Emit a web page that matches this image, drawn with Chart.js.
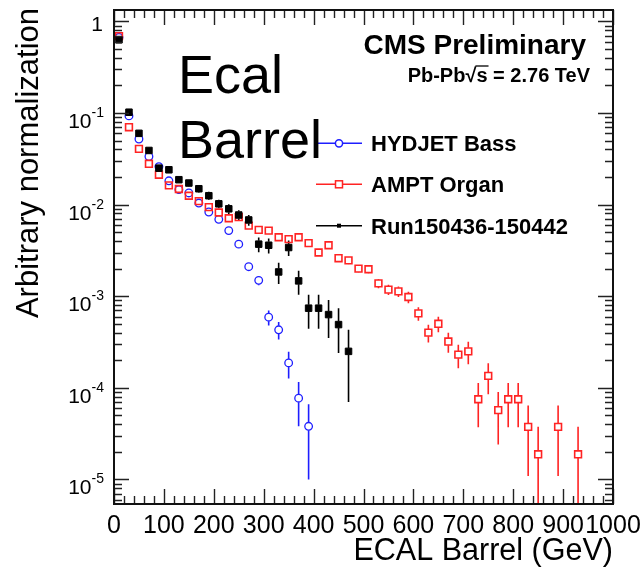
<!DOCTYPE html>
<html>
<head>
<meta charset="utf-8">
<script src="https://cdn.jsdelivr.net/npm/chart.js@4"></script>
<style>
  body { margin: 0; background: #fff; }
  canvas { display: block; }
</style>
</head>
<body>
<canvas id="ecalChart" width="642" height="576"></canvas>
<script>
// ECAL barrel energy, 20 GeV bins, normalised spectra
const hydjetX = [10, 30, 50, 70, 90, 110, 130, 150, 170, 190, 210, 230, 250, 270, 290, 310, 330, 350, 370, 390];
const hydjetY = [0.67, 0.093, 0.052, 0.0335, 0.026, 0.0182, 0.0146, 0.0134, 0.0104, 0.0083, 0.0069, 0.0052, 0.0037, 0.0021, 0.00149, 0.00059, 0.00043, 0.000187, 0.000077, 0.000038];
const hydjetErr = [0.0037, 0.00136, 0.00102, 0.00082, 0.00072, 0.0006, 0.00054, 0.00052, 0.00046, 0.00041, 0.00037, 0.00032, 0.00027, 0.0002, 0.00017, 0.00011, 0.000093, 0.000061, 0.000039, 0.000028];

const amptX = [10, 30, 50, 70, 90, 110, 130, 150, 170, 190, 210, 230, 250, 270, 290, 310, 330, 350, 370, 390, 410, 430, 450, 470, 490, 510, 530, 550, 570, 590, 610, 630, 650, 670, 690, 710, 730, 750, 770, 790, 810, 830, 850, 890, 930];
const amptY = [0.69, 0.070, 0.0406, 0.0279, 0.0212, 0.0162, 0.0148, 0.0125, 0.0109, 0.0094, 0.0082, 0.0071, 0.0073, 0.0059, 0.0053, 0.0052, 0.0044, 0.0042, 0.0044, 0.0038, 0.0030, 0.0036, 0.0026, 0.00246, 0.0020, 0.00197, 0.00138, 0.00118, 0.00113, 0.00098, 0.00065, 0.00040, 0.00050, 0.00032, 0.00023, 0.00025, 0.000075, 0.000135, 0.000057, 0.000075, 0.000075, 0.0000375, 0.0000188, 0.0000375, 0.0000188];
const amptErr = [0.0036, 0.00115, 0.00087, 0.00072, 0.00063, 0.00055, 0.00053, 0.00048, 0.00045, 0.00042, 0.00039, 0.00037, 0.00037, 0.00033, 0.00032, 0.00031, 0.00029, 0.00028, 0.00029, 0.00027, 0.00024, 0.00026, 0.00022, 0.00022, 0.00019, 0.00019, 0.00016, 0.00015, 0.00015, 0.00014, 0.00011, 0.000087, 0.000097, 0.000078, 0.000066, 0.000069, 0.000038, 0.00005, 0.000033, 0.000038, 0.000038, 0.0000266, 0.0000188, 0.0000266, 0.0000188];

const runX = [10, 30, 50, 70, 90, 110, 130, 150, 170, 190, 210, 230, 250, 270, 290, 310, 330, 350, 370, 390, 410, 430, 450, 470];
const runY = [0.63, 0.102, 0.060, 0.039, 0.025, 0.024, 0.0187, 0.0172, 0.0149, 0.0125, 0.0102, 0.0090, 0.0077, 0.0068, 0.0037, 0.0036, 0.00184, 0.0034, 0.00147, 0.00074, 0.00074, 0.00063, 0.00049, 0.00025];
const runErr = [0.0089, 0.0036, 0.0027, 0.0022, 0.0018, 0.0017, 0.0015, 0.0015, 0.0014, 0.0013, 0.0011, 0.0011, 0.00098, 0.00092, 0.00068, 0.00067, 0.00048, 0.00065, 0.00043, 0.0003, 0.0003, 0.00028, 0.00025, 0.00018];

const seriesNames = ['HYDJET Bass', 'AMPT Organ', 'Run150436-150442'];
const xTickValues = [0, 100, 200, 300, 400, 500, 600, 700, 800, 900, 1000];
const yDecades = [0, -1, -2, -3, -4, -5];

const BLUE = 'rgb(30,30,255)';
const RED = 'rgb(255,35,35)';
const BLACK = '#000';
const FONT = '"Liberation Sans", Arial, Helvetica, sans-serif';

function toPoints(xs, ys) {
  return xs.map((x, i) => ({ x: x, y: ys[i] }));
}

const errorSets = [runErr, amptErr, hydjetErr];
const markerHalf = [3.4, 3.6, 4.0];

// error bars, legend, axes and captions drawn ROOT-style around the scatter
const rootStyle = {
  id: 'rootStyle',
  beforeDatasetsDraw(chart) {
    const ctx = chart.ctx;
    const a = chart.chartArea;
    const xs = chart.scales.x, ys = chart.scales.y;
    ctx.save();
    ctx.beginPath();
    ctx.rect(a.left, a.top, a.right - a.left, a.bottom - a.top);
    ctx.clip();
    chart.data.datasets.forEach((ds, di) => {
      const errs = errorSets[di];
      ctx.strokeStyle = ds.borderColor;
      ctx.lineWidth = 1.6;
      ds.data.forEach((p, i) => {
        const px = xs.getPixelForValue(p.x);
        const py = ys.getPixelForValue(p.y);
        const top = ys.getPixelForValue(p.y + errs[i]);
        const low = p.y - errs[i];
        const bot = low > 0 ? ys.getPixelForValue(low) : a.bottom + 5;
        const h = markerHalf[di];
        ctx.beginPath();
        if (top < py - h) { ctx.moveTo(px, top); ctx.lineTo(px, py - h); }
        if (bot > py + h) { ctx.moveTo(px, py + h); ctx.lineTo(px, bot); }
        ctx.stroke();
      });
    });
    ctx.restore();
  },
  afterDraw(chart) {
    const ctx = chart.ctx;
    const a = chart.chartArea;
    const xs = chart.scales.x, ys = chart.scales.y;
    ctx.save();

    // ticks on all four sides, pointing inwards
    ctx.strokeStyle = '#222';
    ctx.lineWidth = 1.4;
    ctx.beginPath();
    for (let v = 0; v <= 1000; v += 20) {
      const px = Math.round(xs.getPixelForValue(v)) + 0.5;
      const len = v % 100 === 0 ? 15 : 8;
      ctx.moveTo(px, a.bottom); ctx.lineTo(px, a.bottom - len);
      ctx.moveTo(px, a.top); ctx.lineTo(px, a.top + len);
    }
    for (let e = -6; e <= 0; e++) {
      for (let m = 1; m <= 9; m++) {
        const v = m * Math.pow(10, e);
        if (v < ys.min || v > ys.max) continue;
        const py = Math.round(ys.getPixelForValue(v)) + 0.5;
        const len = m === 1 ? 15 : 8;
        ctx.moveTo(a.left, py); ctx.lineTo(a.left + len, py);
        ctx.moveTo(a.right, py); ctx.lineTo(a.right - len, py);
      }
    }
    ctx.stroke();

    // frame
    ctx.strokeStyle = '#111';
    ctx.lineWidth = 2;
    ctx.strokeRect(a.left, a.top, a.right - a.left, a.bottom - a.top);

    // x tick labels
    ctx.fillStyle = '#000';
    ctx.textAlign = 'center';
    ctx.textBaseline = 'alphabetic';
    ctx.font = '25px ' + FONT;
    xTickValues.forEach(v => {
      ctx.fillText(String(v), xs.getPixelForValue(v), 533);
    });

    // y tick labels as powers of ten
    ctx.textAlign = 'right';
    yDecades.forEach(e => {
      const py = ys.getPixelForValue(Math.pow(10, e));
      if (e === 0) {
        ctx.font = '21px ' + FONT;
        ctx.fillText('1', 103, py + 10);
        return;
      }
      const sup = String(e);
      ctx.font = '14px ' + FONT;
      ctx.fillText(sup, 104, py + 4);
      const w = ctx.measureText(sup).width;
      ctx.font = '21px ' + FONT;
      ctx.fillText('10', 104 - w, py + 15);
    });

    // axis titles
    ctx.font = '31px ' + FONT;
    ctx.textAlign = 'right';
    ctx.save();
    ctx.translate(a.right, 560);
    ctx.scale(0.985, 1);
    ctx.fillText('ECAL Barrel (GeV)', 0, 0);
    ctx.restore();
    ctx.save();
    ctx.translate(38, 8);
    ctx.rotate(-Math.PI / 2);
    ctx.fillText('Arbitrary normalization', 0, 0);
    ctx.restore();

    // legend
    const legendRows = [
      { y: 143.3, color: BLUE, style: 'circle' },
      { y: 184.3, color: RED, style: 'square' },
      { y: 225.7, color: BLACK, style: 'dot' }
    ];
    legendRows.forEach((row, i) => {
      ctx.strokeStyle = row.color;
      ctx.lineWidth = 1.5;
      ctx.beginPath();
      ctx.moveTo(316, row.y); ctx.lineTo(362, row.y);
      ctx.stroke();
      ctx.fillStyle = '#fff';
      if (row.style === 'circle') {
        ctx.beginPath();
        ctx.arc(339, row.y, 3.6, 0, Math.PI * 2);
        ctx.fill(); ctx.stroke();
      } else if (row.style === 'square') {
        ctx.fillRect(335.5, row.y - 3.5, 7, 7);
        ctx.strokeRect(335.5, row.y - 3.5, 7, 7);
      } else {
        ctx.fillStyle = BLACK;
        ctx.fillRect(337, row.y - 2, 4, 4);
      }
      ctx.fillStyle = '#000';
      ctx.textAlign = 'left';
      ctx.font = 'bold 22px ' + FONT;
      ctx.fillText(seriesNames[i], 371, row.y + 8);
    });

    // experiment captions
    ctx.textAlign = 'right';
    ctx.font = 'bold 28px ' + FONT;
    ctx.fillText('CMS Preliminary', 586, 53.5);

    ctx.font = 'bold 20px ' + FONT;
    const partA = 'Pb-Pb', partB = '\u221A', partC = 's', partD = ' = 2.76 TeV';
    const wA = ctx.measureText(partA).width, wB = ctx.measureText(partB).width;
    const wC = ctx.measureText(partC).width, wD = ctx.measureText(partD).width;
    let cx = 590 - (wA + wB + wC + wD);
    ctx.textAlign = 'left';
    ctx.fillText(partA, cx, 82.3); cx += wA;
    ctx.fillText(partB, cx, 82.3); cx += wB;
    ctx.lineWidth = 1.3;
    ctx.strokeStyle = '#000';
    ctx.beginPath();
    ctx.moveTo(cx - 1, 66); ctx.lineTo(cx + wC + 1, 66);
    ctx.stroke();
    ctx.fillText(partC, cx, 82.3); cx += wC;
    ctx.fillText(partD, cx, 82.3);

    // detector region label
    ctx.font = '54px ' + FONT;
    ctx.fillText('Ecal', 178, 92.7);
    ctx.fillText('Barrel', 178, 157.5);

    ctx.restore();
  }
};

const ctx1 = document.getElementById('ecalChart').getContext('2d');
new Chart(ctx1, {
  type: 'scatter',
  data: {
    datasets: [{
      label: seriesNames[2],
      data: toPoints(runX, runY),
      pointStyle: 'rect',
      pointRadius: 4.6,
      backgroundColor: BLACK,
      borderColor: BLACK,
      borderWidth: 1,
      order: 0
    }, {
      label: seriesNames[1],
      data: toPoints(amptX, amptY),
      pointStyle: 'rect',
      pointRadius: 4.8,
      backgroundColor: 'rgba(0,0,0,0)',
      borderColor: RED,
      borderWidth: 1.6,
      order: 1
    }, {
      label: seriesNames[0],
      data: toPoints(hydjetX, hydjetY),
      pointStyle: 'circle',
      pointRadius: 3.8,
      backgroundColor: 'rgba(0,0,0,0)',
      borderColor: BLUE,
      borderWidth: 1.3,
      order: 2
    }]
  },
  options: {
    responsive: false,
    animation: false,
    layout: { padding: { left: 114, right: 29, top: 10, bottom: 72 } },
    scales: {
      x: { type: 'linear', min: 0, max: 1000, display: false },
      y: { type: 'logarithmic', min: 5.39e-6, max: 1.332, display: false }
    },
    plugins: {
      legend: { display: false },
      tooltip: { enabled: false }
    }
  },
  plugins: [rootStyle]
});
</script>
</body>
</html>
